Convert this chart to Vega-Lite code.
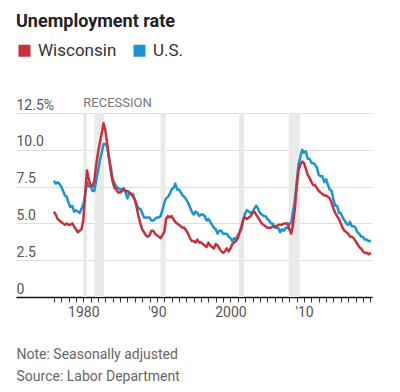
{
  "$schema": "https://vega.github.io/schema/vega-lite/v6.json",
  "width": 356,
  "height": 184,
  "autosize": "none",
  "padding": {"left": 16, "top": 113, "right": 28, "bottom": 95},
  "title": {"text": "Unemployment rate", "anchor": "start", "frame": "group", "fontSize": 18, "fontWeight": "bold", "color": "#222", "font": "Roboto", "dy": -7},
  "config": {
    "view": {"stroke": null},
    "font": "Roboto",
    "axisX": {
      "labelOverlap": false,
      "labelFontSize": 14,
      "labelColor": "#555",
      "labelPadding": 3,
      "tickSize": 5,
      "tickColor": "#333",
      "domainColor": "#111",
      "domainWidth": 1.5,
      "grid": false,
      "titleX": 0,
      "titleY": 50,
      "titleAlign": "left",
      "titleBaseline": "top",
      "titleFontSize": 14,
      "titleFontWeight": "normal",
      "titleColor": "#666",
      "titleLineHeight": 22
    },
    "axisY": {
      "labelOverlap": false,
      "labelAlign": "left",
      "labelBaseline": "bottom",
      "labelOffset": -1,
      "labelPadding": 0,
      "ticks": false,
      "tickSize": 0,
      "domain": false,
      "grid": true,
      "gridColor": "#dedede",
      "labelFontSize": 14,
      "labelColor": "#555"
    }
  },
  "layer": [
    {
      "data": {"values": [
        {"s": "1980-01", "e": "1980-07"},
        {"s": "1981-07", "e": "1982-11"},
        {"s": "1990-07", "e": "1991-03"},
        {"s": "2001-03", "e": "2001-11"},
        {"s": "2007-12", "e": "2009-06"}
      ]},
      "mark": {"type": "rect", "color": "#e9e9ea"},
      "encoding": {
        "x": {
          "field": "s", "type": "temporal",
          "scale": {"domain": [{"year": 1970, "month": 11, "date": 7}, {"year": 2019, "month": 3, "date": 28}]},
          "axis": {
            "values": [{"year":1976},{"year":1977},{"year":1978},{"year":1979},{"year":1980},{"year":1981},{"year":1982},{"year":1983},{"year":1984},{"year":1985},{"year":1986},{"year":1987},{"year":1988},{"year":1989},{"year":1990},{"year":1991},{"year":1992},{"year":1993},{"year":1994},{"year":1995},{"year":1996},{"year":1997},{"year":1998},{"year":1999},{"year":2000},{"year":2001},{"year":2002},{"year":2003},{"year":2004},{"year":2005},{"year":2006},{"year":2007},{"year":2008},{"year":2009},{"year":2010},{"year":2011},{"year":2012},{"year":2013},{"year":2014},{"year":2015},{"year":2016},{"year":2017},{"year":2018},{"year":2019}],
            "labelExpr": "year(datum.value) == 1980 ? '1980' : year(datum.value) == 1990 ? \"'90\" : year(datum.value) == 2000 ? '2000' : year(datum.value) == 2010 ? \"'10\" : ''",
            "title": ["Note: Seasonally adjusted", "Source: Labor Department"]
          }
        },
        "x2": {"field": "e"}
      }
    },
    {
      "data": {"values": [{"d": "1980-01", "v": 12.5, "t": "RECESSION"}]},
      "mark": {"type": "text", "align": "left", "baseline": "bottom", "dy": -3, "fontSize": 13, "color": "#777"},
      "encoding": {
        "x": {
          "field": "d", "type": "temporal",
          "axis": {
            "values": [{"year":1976},{"year":1977},{"year":1978},{"year":1979},{"year":1980},{"year":1981},{"year":1982},{"year":1983},{"year":1984},{"year":1985},{"year":1986},{"year":1987},{"year":1988},{"year":1989},{"year":1990},{"year":1991},{"year":1992},{"year":1993},{"year":1994},{"year":1995},{"year":1996},{"year":1997},{"year":1998},{"year":1999},{"year":2000},{"year":2001},{"year":2002},{"year":2003},{"year":2004},{"year":2005},{"year":2006},{"year":2007},{"year":2008},{"year":2009},{"year":2010},{"year":2011},{"year":2012},{"year":2013},{"year":2014},{"year":2015},{"year":2016},{"year":2017},{"year":2018},{"year":2019}],
            "labelExpr": "year(datum.value) == 1980 ? '1980' : year(datum.value) == 1990 ? \"'90\" : year(datum.value) == 2000 ? '2000' : year(datum.value) == 2010 ? \"'10\" : ''",
            "title": ["Note: Seasonally adjusted", "Source: Labor Department"]
          }
        },
        "y": {
          "field": "v", "type": "quantitative",
          "scale": {"domain": [0, 12.5]},
          "axis": {
            "values": [0, 2.5, 5, 7.5, 10, 12.5],
            "labelExpr": "datum.value == 12.5 ? '12.5%' : datum.value == 0 ? '0' : format(datum.value, '.1f')",
            "title": null
          }
        },
        "text": {"field": "t"}
      }
    },
    {
      "data": {"values": [
        {"d":"1976-01","US":7.9,"Wisconsin":5.8},{"d":"1976-04","US":7.7,"Wisconsin":5.6},{"d":"1976-07","US":7.8,"Wisconsin":5.3},{"d":"1976-10","US":7.7,"Wisconsin":5.2},
        {"d":"1977-01","US":7.5,"Wisconsin":5.1},{"d":"1977-04","US":7.2,"Wisconsin":5.0},{"d":"1977-07","US":6.9,"Wisconsin":4.9},{"d":"1977-10","US":6.8,"Wisconsin":5.0},
        {"d":"1978-01","US":6.4,"Wisconsin":4.9},{"d":"1978-04","US":6.1,"Wisconsin":4.9},{"d":"1978-07","US":6.2,"Wisconsin":5.0},{"d":"1978-10","US":5.8,"Wisconsin":4.8},
        {"d":"1979-01","US":5.9,"Wisconsin":4.6},{"d":"1979-04","US":5.8,"Wisconsin":4.4},{"d":"1979-07","US":5.7,"Wisconsin":4.5},{"d":"1979-10","US":6.0,"Wisconsin":4.6},
        {"d":"1980-01","US":6.3,"Wisconsin":5.2},{"d":"1980-04","US":6.9,"Wisconsin":7.0},{"d":"1980-07","US":7.8,"Wisconsin":8.6},{"d":"1980-10","US":7.5,"Wisconsin":8.0},
        {"d":"1981-01","US":7.5,"Wisconsin":7.6},{"d":"1981-04","US":7.2,"Wisconsin":7.5},{"d":"1981-07","US":7.2,"Wisconsin":7.9},{"d":"1981-10","US":7.9,"Wisconsin":9.0},
        {"d":"1982-01","US":8.6,"Wisconsin":9.8},{"d":"1982-04","US":9.3,"Wisconsin":10.5},{"d":"1982-07","US":9.8,"Wisconsin":11.1},{"d":"1982-10","US":10.4,"Wisconsin":11.8},
        {"d":"1983-01","US":10.4,"Wisconsin":11.3},{"d":"1983-04","US":10.2,"Wisconsin":10.4},{"d":"1983-07","US":9.4,"Wisconsin":9.4},{"d":"1983-10","US":8.8,"Wisconsin":8.5},
        {"d":"1984-01","US":8.0,"Wisconsin":7.8},{"d":"1984-04","US":7.7,"Wisconsin":7.4},{"d":"1984-07","US":7.5,"Wisconsin":7.3},{"d":"1984-10","US":7.4,"Wisconsin":7.1},
        {"d":"1985-01","US":7.3,"Wisconsin":7.1},{"d":"1985-04","US":7.3,"Wisconsin":7.2},{"d":"1985-07","US":7.4,"Wisconsin":7.3},{"d":"1985-10","US":7.1,"Wisconsin":7.2},
        {"d":"1986-01","US":6.7,"Wisconsin":7.2},{"d":"1986-04","US":7.1,"Wisconsin":7.1},{"d":"1986-07","US":7.0,"Wisconsin":7.0},{"d":"1986-10","US":7.0,"Wisconsin":6.8},
        {"d":"1987-01","US":6.6,"Wisconsin":6.6},{"d":"1987-04","US":6.3,"Wisconsin":6.1},{"d":"1987-07","US":6.0,"Wisconsin":5.5},{"d":"1987-10","US":6.0,"Wisconsin":5.0},
        {"d":"1988-01","US":5.7,"Wisconsin":4.6},{"d":"1988-04","US":5.4,"Wisconsin":4.4},{"d":"1988-07","US":5.4,"Wisconsin":4.2},{"d":"1988-10","US":5.4,"Wisconsin":4.1},
        {"d":"1989-01","US":5.4,"Wisconsin":4.2},{"d":"1989-04","US":5.2,"Wisconsin":4.5},{"d":"1989-07","US":5.2,"Wisconsin":4.5},{"d":"1989-10","US":5.3,"Wisconsin":4.3},
        {"d":"1990-01","US":5.4,"Wisconsin":4.2},{"d":"1990-04","US":5.4,"Wisconsin":4.1},{"d":"1990-07","US":5.5,"Wisconsin":4.0},{"d":"1990-10","US":5.9,"Wisconsin":4.2},
        {"d":"1991-01","US":6.4,"Wisconsin":4.4},{"d":"1991-04","US":6.7,"Wisconsin":5.3},{"d":"1991-07","US":6.8,"Wisconsin":5.5},{"d":"1991-10","US":7.0,"Wisconsin":5.4},
        {"d":"1992-01","US":7.3,"Wisconsin":5.5},{"d":"1992-04","US":7.4,"Wisconsin":5.3},{"d":"1992-07","US":7.7,"Wisconsin":5.1},{"d":"1992-10","US":7.3,"Wisconsin":5.0},
        {"d":"1993-01","US":7.3,"Wisconsin":4.9},{"d":"1993-04","US":7.1,"Wisconsin":4.8},{"d":"1993-07","US":6.9,"Wisconsin":4.7},{"d":"1993-10","US":6.8,"Wisconsin":4.7},
        {"d":"1994-01","US":6.6,"Wisconsin":4.5},{"d":"1994-04","US":6.4,"Wisconsin":4.3},{"d":"1994-07","US":6.1,"Wisconsin":4.0},{"d":"1994-10","US":5.8,"Wisconsin":3.8},
        {"d":"1995-01","US":5.6,"Wisconsin":3.8},{"d":"1995-04","US":5.8,"Wisconsin":3.7},{"d":"1995-07","US":5.7,"Wisconsin":3.9},{"d":"1995-10","US":5.5,"Wisconsin":3.7},
        {"d":"1996-01","US":5.6,"Wisconsin":3.7},{"d":"1996-04","US":5.6,"Wisconsin":3.6},{"d":"1996-07","US":5.5,"Wisconsin":3.5},{"d":"1996-10","US":5.2,"Wisconsin":3.4},
        {"d":"1997-01","US":5.3,"Wisconsin":3.7},{"d":"1997-04","US":5.1,"Wisconsin":3.5},{"d":"1997-07","US":4.9,"Wisconsin":3.4},{"d":"1997-10","US":4.7,"Wisconsin":3.3},
        {"d":"1998-01","US":4.6,"Wisconsin":3.6},{"d":"1998-04","US":4.3,"Wisconsin":3.5},{"d":"1998-07","US":4.5,"Wisconsin":3.3},{"d":"1998-10","US":4.5,"Wisconsin":3.1},
        {"d":"1999-01","US":4.3,"Wisconsin":3.0},{"d":"1999-04","US":4.3,"Wisconsin":3.1},{"d":"1999-07","US":4.3,"Wisconsin":3.3},{"d":"1999-10","US":4.1,"Wisconsin":3.1},
        {"d":"2000-01","US":4.0,"Wisconsin":3.3},{"d":"2000-04","US":3.8,"Wisconsin":3.6},{"d":"2000-07","US":4.0,"Wisconsin":3.7},{"d":"2000-10","US":3.9,"Wisconsin":3.8},
        {"d":"2001-01","US":4.2,"Wisconsin":4.0},{"d":"2001-04","US":4.4,"Wisconsin":4.4},{"d":"2001-07","US":4.6,"Wisconsin":4.8},{"d":"2001-10","US":5.3,"Wisconsin":5.3},
        {"d":"2002-01","US":5.7,"Wisconsin":5.4},{"d":"2002-04","US":5.9,"Wisconsin":5.3},{"d":"2002-07","US":5.8,"Wisconsin":5.4},{"d":"2002-10","US":5.7,"Wisconsin":5.5},
        {"d":"2003-01","US":5.8,"Wisconsin":5.7},{"d":"2003-04","US":6.0,"Wisconsin":5.8},{"d":"2003-07","US":6.2,"Wisconsin":5.6},{"d":"2003-10","US":6.0,"Wisconsin":5.4},
        {"d":"2004-01","US":5.7,"Wisconsin":5.2},{"d":"2004-04","US":5.6,"Wisconsin":5.0},{"d":"2004-07","US":5.5,"Wisconsin":4.9},{"d":"2004-10","US":5.5,"Wisconsin":4.8},
        {"d":"2005-01","US":5.3,"Wisconsin":4.7},{"d":"2005-04","US":5.2,"Wisconsin":4.7},{"d":"2005-07","US":5.0,"Wisconsin":4.7},{"d":"2005-10","US":5.0,"Wisconsin":4.8},
        {"d":"2006-01","US":4.7,"Wisconsin":4.8},{"d":"2006-04","US":4.7,"Wisconsin":4.8},{"d":"2006-07","US":4.7,"Wisconsin":4.9},{"d":"2006-10","US":4.4,"Wisconsin":4.9},
        {"d":"2007-01","US":4.6,"Wisconsin":4.9},{"d":"2007-04","US":4.5,"Wisconsin":5.0},{"d":"2007-07","US":4.7,"Wisconsin":5.0},{"d":"2007-10","US":4.7,"Wisconsin":5.0},
        {"d":"2008-01","US":5.0,"Wisconsin":4.6},{"d":"2008-04","US":5.0,"Wisconsin":4.3},{"d":"2008-07","US":5.8,"Wisconsin":4.9},{"d":"2008-10","US":6.5,"Wisconsin":6.0},
        {"d":"2009-01","US":7.8,"Wisconsin":7.5},{"d":"2009-04","US":9.0,"Wisconsin":8.6},{"d":"2009-07","US":9.5,"Wisconsin":9.0},{"d":"2009-10","US":10.0,"Wisconsin":9.2},
        {"d":"2010-01","US":9.8,"Wisconsin":9.1},{"d":"2010-04","US":9.9,"Wisconsin":8.7},{"d":"2010-07","US":9.4,"Wisconsin":8.3},{"d":"2010-10","US":9.4,"Wisconsin":8.1},
        {"d":"2011-01","US":9.1,"Wisconsin":7.8},{"d":"2011-04","US":9.1,"Wisconsin":7.6},{"d":"2011-07","US":9.0,"Wisconsin":7.6},{"d":"2011-10","US":8.8,"Wisconsin":7.4},
        {"d":"2012-01","US":8.3,"Wisconsin":7.2},{"d":"2012-04","US":8.2,"Wisconsin":7.1},{"d":"2012-07","US":8.2,"Wisconsin":7.0},{"d":"2012-10","US":7.8,"Wisconsin":6.9},
        {"d":"2013-01","US":8.0,"Wisconsin":6.9},{"d":"2013-04","US":7.6,"Wisconsin":6.8},{"d":"2013-07","US":7.3,"Wisconsin":6.7},{"d":"2013-10","US":7.2,"Wisconsin":6.4},
        {"d":"2014-01","US":6.6,"Wisconsin":6.0},{"d":"2014-04","US":6.2,"Wisconsin":5.7},{"d":"2014-07","US":6.2,"Wisconsin":5.5},{"d":"2014-10","US":5.7,"Wisconsin":5.3},
        {"d":"2015-01","US":5.7,"Wisconsin":5.0},{"d":"2015-04","US":5.4,"Wisconsin":4.7},{"d":"2015-07","US":5.2,"Wisconsin":4.5},{"d":"2015-10","US":5.0,"Wisconsin":4.4},
        {"d":"2016-01","US":4.9,"Wisconsin":4.3},{"d":"2016-04","US":5.1,"Wisconsin":4.1},{"d":"2016-07","US":4.8,"Wisconsin":4.1},{"d":"2016-10","US":4.8,"Wisconsin":4.0},
        {"d":"2017-01","US":4.7,"Wisconsin":3.8},{"d":"2017-04","US":4.4,"Wisconsin":3.6},{"d":"2017-07","US":4.3,"Wisconsin":3.4},{"d":"2017-10","US":4.1,"Wisconsin":3.3},
        {"d":"2018-01","US":4.1,"Wisconsin":3.1},{"d":"2018-04","US":3.9,"Wisconsin":3.0},{"d":"2018-07","US":3.9,"Wisconsin":3.0},{"d":"2018-10","US":3.8,"Wisconsin":2.9},
        {"d":"2019-02","US":3.8,"Wisconsin":3.0}
      ]},
      "transform": [{"fold": ["US", "Wisconsin"], "as": ["series", "rate"]}],
      "mark": {"type": "line", "strokeWidth": 2.5, "strokeJoin": "round"},
      "encoding": {
        "x": {
          "field": "d", "type": "temporal",
          "axis": {
            "values": [{"year":1976},{"year":1977},{"year":1978},{"year":1979},{"year":1980},{"year":1981},{"year":1982},{"year":1983},{"year":1984},{"year":1985},{"year":1986},{"year":1987},{"year":1988},{"year":1989},{"year":1990},{"year":1991},{"year":1992},{"year":1993},{"year":1994},{"year":1995},{"year":1996},{"year":1997},{"year":1998},{"year":1999},{"year":2000},{"year":2001},{"year":2002},{"year":2003},{"year":2004},{"year":2005},{"year":2006},{"year":2007},{"year":2008},{"year":2009},{"year":2010},{"year":2011},{"year":2012},{"year":2013},{"year":2014},{"year":2015},{"year":2016},{"year":2017},{"year":2018},{"year":2019}],
            "labelExpr": "year(datum.value) == 1980 ? '1980' : year(datum.value) == 1990 ? \"'90\" : year(datum.value) == 2000 ? '2000' : year(datum.value) == 2010 ? \"'10\" : ''",
            "title": ["Note: Seasonally adjusted", "Source: Labor Department"]
          }
        },
        "y": {
          "field": "rate", "type": "quantitative",
          "scale": {"domain": [0, 12.5]},
          "axis": {
            "values": [0, 2.5, 5, 7.5, 10, 12.5],
            "labelExpr": "datum.value == 12.5 ? '12.5%' : datum.value == 0 ? '0' : format(datum.value, '.1f')",
            "title": null
          }
        },
        "color": {
          "field": "series", "type": "nominal",
          "scale": {"domain": ["Wisconsin", "US"], "range": ["#c8313b", "#1b94d3"]},
          "legend": {
            "orient": "none",
            "legendX": 0,
            "legendY": -71,
            "direction": "horizontal",
            "title": null,
            "symbolType": "square",
            "symbolSize": 144,
            "symbolStrokeWidth": 0,
            "labelFontSize": 17,
            "labelColor": "#333",
            "labelOffset": 5,
            "columnPadding": 14,
            "padding": 0,
            "labelExpr": "datum.label == 'US' ? 'U.S.' : datum.label",
            "encode": {"symbols": {"update": {"fill": {"scale": "color", "field": "value"}, "opacity": {"value": 1}}}}
          }
        }
      }
    }
  ]
}
